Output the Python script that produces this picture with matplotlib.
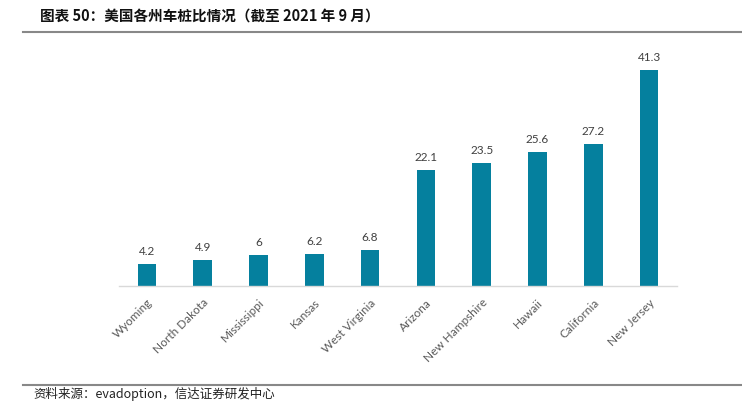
import matplotlib
matplotlib.use("Agg")
import matplotlib.pyplot as plt
from matplotlib.lines import Line2D

states = ["Wyoming", "North Dakota", "Mississippi", "Kansas", "West Virginia",
          "Arizona", "New Hampshire", "Hawaii", "California", "New Jersey"]
values = [4.2, 4.9, 6, 6.2, 6.8, 22.1, 23.5, 25.6, 27.2, 41.3]
value_labels = ["4.2", "4.9", "6", "6.2", "6.8", "22.1", "23.5", "25.6", "27.2", "41.3"]

plt.rcParams['font.family'] = ['Noto Sans CJK SC', 'DejaVu Sans']

fig = plt.figure(figsize=(7.42, 4.17), dpi=100)
W, H = 742, 417
ax = fig.add_axes([119 / W, (H - 286) / H, (677 - 119) / W, (286 - 50.7) / H])

x = list(range(len(states)))
ax.bar(x, values, width=0.33, color="#05809E")
for xi, v, lab in zip(x, values, value_labels):
    ax.annotate(lab, (xi, v), xytext=(0, 5), textcoords="offset points",
                ha="center", va="bottom", fontsize=8.5, color="#404040",
                family=["Lato", "DejaVu Sans"])

ax.set_xlim(-0.5, 9.5)
ax.set_ylim(0, 45)
ax.set_xticks(x)
ax.set_xticklabels(states, rotation=45, ha="right", rotation_mode="anchor",
                   fontsize=8.5, color="#595959", family=["Lato", "DejaVu Sans"])
ax.tick_params(axis="x", length=0, pad=8)
ax.set_yticks([])
for s in ["top", "right", "left"]:
    ax.spines[s].set_visible(False)
ax.spines["bottom"].set_color("#d9d9d9")
ax.spines["bottom"].set_linewidth(1.0)

fig.text(40 / W, 1 - 17 / H, "图表 50：美国各州车桩比情况（截至 2021 年 9 月）",
         fontsize=10.5, fontweight="bold", ha="left", va="center", color="#111111")
fig.add_artist(Line2D([23 / W, 1.0], [1 - 32 / H, 1 - 32 / H], color="#888888", linewidth=1.5))
fig.add_artist(Line2D([23 / W, 1.0], [1 - 385 / H, 1 - 385 / H], color="#888888", linewidth=1.5))
fig.text(33 / W, 1 - 394 / H, "资料来源：evadoption，信达证券研发中心",
         fontsize=9, style="italic", ha="left", va="center", color="#222222")

fig.savefig("out.png", dpi=100, facecolor="white")
